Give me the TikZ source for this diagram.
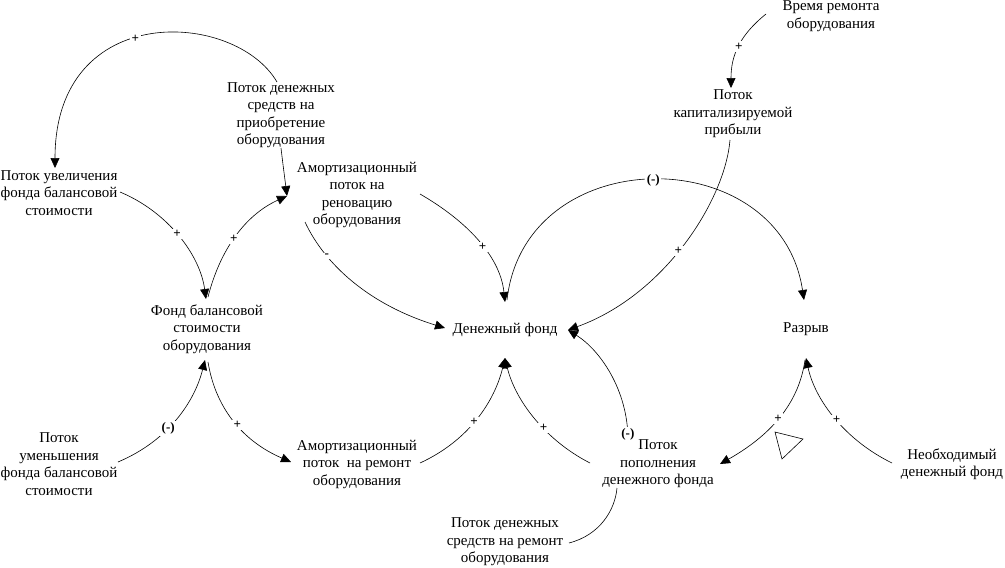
\documentclass[tikz,border=0pt]{standalone}
\usepackage{fontspec}
\setmainfont{Liberation Serif}
\usetikzlibrary{arrows.meta}
\begin{document}
\begin{tikzpicture}[x=1pt,y=-1pt,
  txt/.style={align=center,inner sep=0pt,font=\fontsize{15}{17.5}\selectfont},
  conn/.style={line width=0.6pt,-{Triangle[length=10pt,width=9pt]}},
  plain/.style={line width=0.6pt},
  sign/.style={fill=white,inner sep=1.5pt,font=\fontsize{13}{13}\selectfont\bfseries}]
\useasboundingbox (0,0) rectangle (1005,568);
% nodes
\node[txt] (vr) at (831,16) {Время ремонта\\оборудования};
\node[txt] (kap) at (733,114) {Поток\\капитализируемой\\прибыли};
\node[txt] (pds) at (281,115) {Поток денежных\\средств на\\приобретение\\оборудования};
\node[txt] (amren) at (357,195) {Амортизационный\\поток на\\реновацию\\оборудования};
\node[txt] (puv) at (59,193) {Поток увеличения\\фонда балансовой\\стоимости};
\node[txt] (fbs) at (207,329) {Фонд балансовой\\стоимости\\оборудования};
\node[txt] (df) at (505,330) {Денежный фонд};
\node[txt] (raz) at (806,329) {Разрыв};
\node[txt] (pum) at (59,464) {Поток\\уменьшения\\фонда балансовой\\стоимости};
\node[txt] (amrem) at (357,464) {Амортизационный\\поток\ \ на ремонт\\оборудования};
\node[txt] (pop) at (658,464) {Поток\\пополнения\\денежного фонда};
\node[txt] (pdr) at (505,542) {Поток денежных\\средств на ремонт\\оборудования};
\node[txt] (neo) at (952,464) {Необходимый\\денежный фонд};
% connectors
\draw[conn] ([shift={(-4,-33)}]pds.center) .. controls (235,10) and (55,0) .. node[sign,pos=0.55]{+} ([shift={(-4,-25)}]puv.center);
\draw[conn] ([shift={(0,33)}]pds.center) .. controls (283,165) and (285,180) .. ([shift={(-70,1)}]amren.center);
\draw[conn] ([shift={(1,-32)}]fbs.center) .. controls (220,250) and (245,215) .. node[sign,pos=0.47]{+} ([shift={(-70,1)}]amren.center);
\draw[conn] ([shift={(61,-1)}]puv.center) .. controls (168,212) and (200,255) .. node[sign,pos=0.48]{+} ([shift={(-1,-30)}]fbs.center);
\draw[conn] ([shift={(-52,27)}]amren.center) .. controls (325,265) and (370,305) .. node[sign,pos=0.27]{-} ([shift={(-60,-2)}]df.center);
\draw[conn] ([shift={(63,-1)}]amren.center) .. controls (465,220) and (500,255) .. node[sign,pos=0.56]{+} ([shift={(0,-28)}]df.center);
\draw[conn] ([shift={(2,-30)}]df.center) .. controls (525,140) and (780,140) .. node[sign,pos=0.5]{(-)} ([shift={(-2,-29)}]raz.center);
\draw[conn] ([shift={(-3,26)}]kap.center) .. controls (725,200) and (665,295) .. node[sign,pos=0.53]{+} ([shift={(63,0)}]df.center);
\draw[conn] ([shift={(-65,-2)}]vr.center) .. controls (740,35) and (731,55) .. node[sign,pos=0.5]{+} ([shift={(-2,-26)}]kap.center);
\draw[conn] ([shift={(59,-2)}]pum.center) .. controls (170,440) and (195,400) .. node[sign,pos=0.4]{(-)} ([shift={(-2,31)}]fbs.center);
\draw[conn] ([shift={(1,33)}]fbs.center) .. controls (215,405) and (240,440) .. node[sign,pos=0.55]{+} ([shift={(-66,-2)}]amrem.center);
\draw[conn] ([shift={(63,-1)}]amrem.center) .. controls (470,440) and (495,400) .. node[sign,pos=0.46]{+} ([shift={(0,28)}]df.center);
\draw[conn] ([shift={(-68,-1)}]pop.center) .. controls (545,440) and (515,400) .. node[sign,pos=0.4]{+} ([shift={(0,28)}]df.center);
\draw[conn] ([shift={(-30,-24)}]pop.center) .. controls (628,390) and (600,350) .. node[sign,pos=0.04]{(-)} ([shift={(63,0)}]df.center);
\draw[conn] ([shift={(-1,31)}]raz.center) .. controls (800,395) and (780,430) .. node[sign,pos=0.56]{+} ([shift={(62,0)}]pop.center);
\draw[conn] ([shift={(-60,-1)}]neo.center) .. controls (845,440) and (815,400) .. node[sign,pos=0.48]{+} ([shift={(0,29)}]raz.center);
\draw[plain] ([shift={(64,1)}]pdr.center) .. controls (600,535) and (615,510) .. ([shift={(-41,24)}]pop.center);
% loop marker
\draw[plain] (775,432) -- (803,439) -- (782,459) -- cycle;
\end{tikzpicture}
\end{document}
